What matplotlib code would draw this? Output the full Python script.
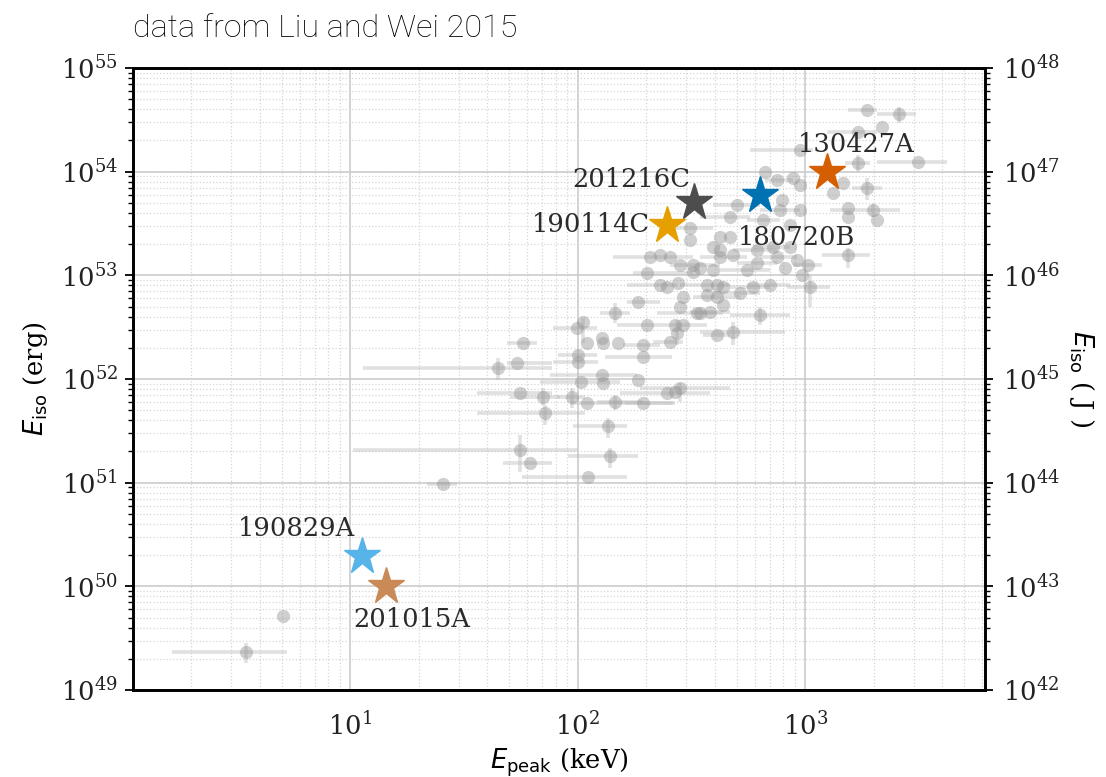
import numpy as np
import matplotlib
matplotlib.use("Agg")
import matplotlib.pyplot as plt
from matplotlib.ticker import LogLocator, NullFormatter, FixedLocator

# ---- GRB sample (Epeak in keV, Eiso in units of 1e52 erg) ----
epeak = [1873, 2588, 2179, 1710, 951, 1710, 3140, 1469, 1873, 1990,
         1545, 1545, 2073, 1545, 667, 753, 885, 951, 1327, 792,
         777, 951, 502, 468, 653, 859, 723, 859, 615, 483,
         753, 922, 1030, 817, 615, 423, 556, 970, 701, 1052,
         591, 518, 634, 394, 322, 345, 312, 423, 312, 208,
         230, 255, 202, 230, 247, 277, 291, 282, 185, 146,
         371, 410, 436, 371, 410, 335, 382, 436, 282, 468,
         394, 423, 322, 202, 255, 268, 291, 274, 345, 410,
         483, 99.5, 106, 100, 100, 110, 128, 129, 151, 194,
         194, 57.5, 54, 44.7, 128, 103, 129, 185, 55.9, 70.5,
         94.6, 110, 146, 194, 247, 268, 282, 72, 136, 55.9,
         61.8, 139, 111, 25.6, 5.08, 3.49]

eiso52 = [394, 360, 270, 241, 162, 121, 124, 77.8, 69.6, 42.7,
          44.7, 36.5, 34.2, 15.7, 99, 83.2, 86.9, 74.3, 62.3, 53.3,
          42.7, 42.7, 47.7, 36.5, 34.2, 30.6, 18.8, 18.8, 17.5, 15.7,
          15.0, 14.1, 12.6, 11.8, 13.2, 17.5, 11.3, 10.1, 8.07, 7.72,
          7.72, 6.76, 4.14, 11.3, 12.6, 11.8, 21.9, 23.4, 28.6, 15.0,
          15.7, 15.0, 10.5, 8.07, 7.72, 8.43, 6.18, 4.95, 5.53, 4.33,
          8.07, 8.07, 7.72, 6.46, 6.18, 4.33, 4.43, 5.17, 12.6, 23.4,
          18.8, 15.0, 10.8, 3.32, 2.27, 3.32, 3.32, 2.78, 4.33, 2.66,
          2.84, 3.10, 3.55, 1.71, 1.46, 2.22, 2.49, 2.22, 2.22, 2.13,
          1.63, 2.22, 1.43, 1.28, 1.09, 0.935, 0.915, 0.978, 0.733, 0.671,
          0.671, 0.587, 0.600, 0.587, 0.733, 0.750, 0.819, 0.470, 0.352, 0.207,
          0.155, 0.181, 0.1135, 0.0971, 0.00518, 0.00233]

# Epeak confidence ranges (lower, upper) for bursts that have them
epeak_bounds = {
    0: (1545, 2073), 1: (2073, 3076), 3: (1250, 2073), 4: (573, 1084),
    5: (1500, 1932), 6: (2073, 4207), 8: (1610, 2179), 9: (1288, 2616),
    13: (1188, 1932), 15: (667, 885), 20: (634, 951), 22: (394, 634),
    23: (345, 573), 24: (556, 777), 26: (591, 859), 28: (483, 753),
    30: (634, 922), 32: (885, 1188), 34: (502, 753), 36: (423, 701),
    38: (556, 859), 39: (834, 1288), 40: (468, 701), 41: (394, 634),
    42: (468, 859), 44: (255, 423), 48: (255, 394), 49: (143, 322),
    52: (175, 322), 53: (165, 274), 58: (165, 230), 59: (126, 170),
    60: (282, 468), 64: (322, 518), 66: (312, 468), 71: (345, 556),
    73: (149, 371), 74: (215, 291), 78: (224, 436), 79: (356, 468),
    80: (345, 817), 81: (78, 122), 83: (82, 122), 84: (78, 123),
    89: (158, 230), 90: (132, 260), 91: (49, 66), 92: (49, 77),
    93: (11.4, 77), 94: (75.7, 183), 95: (68.4, 154), 98: (36.2, 77),
    99: (50.5, 83.8), 100: (81.3, 108), 101: (92.7, 263), 102: (122, 194),
    103: (162, 268), 104: (154, 382), 106: (188, 468), 107: (36.2, 108),
    108: (95.5, 165), 109: (10.3, 100), 110: (47.1, 77), 111: (90.8, 185),
    112: (57, 165), 113: (21.8, 29.5), 115: (1.65, 5.29),
}

# Eiso confidence ranges (lower, upper), units of 1e52 erg
eiso_bounds = {
    1: (295, 421), 5: (99, 145), 8: (53.3, 86.9), 9: (36.5, 48.8),
    13: (11.8, 18.4), 39: (4.95, 10.1), 42: (3.32, 4.95), 59: (3.47, 5.41),
    77: (2.13, 3.71), 80: (2.13, 3.55), 82: (2.22, 3.88), 93: (0.978, 1.60),
    99: (0.561, 0.819), 100: (0.525, 0.819), 102: (0.502, 0.701),
    106: (0.600, 0.915), 107: (0.360, 0.561), 108: (0.270, 0.421),
    109: (0.127, 0.288), 111: (0.139, 0.216), 115: (0.00182, 0.00284),
}

# ---- highlighted bursts ----
grb_names = ["130427A", "180720B", "201216C", "190114C", "190829A", "201015A"]
grb_epeak = [1250, 634, 325, 247, 11.3, 14.4]
grb_eiso = [1.0e54, 6.0e53, 5.1e53, 3.06e53, 1.96e50, 1.0e50]
grb_colors = ["#D55E00", "#0072B2", "#4D4D4D", "#E69F00", "#56B4E9", "#C98A58"]
# label offsets (points) and horizontal alignment
grb_label_offset = [(21, 19.5), (26.5, -31), (-3, 16), (-12, 0.5), (-5, 20), (-24, -24)]
grb_label_ha = ["center", "center", "right", "right", "right", "left"]

x_ticks = [10, 100, 1000]
y_ticks_erg = [1e49, 1e50, 1e51, 1e52, 1e53, 1e54, 1e55]
ERG_TO_J = 1e-7

plt.rcParams.update({
    "font.family": "serif",
    "font.serif": ["DejaVu Serif"],
    "mathtext.fontset": "dejavusans",
})

fig = plt.figure(figsize=(11.06, 7.77), dpi=100)
ax = fig.add_axes([0.1203, 0.1120, 0.7703, 0.8005])

x = np.asarray(epeak, dtype=float)
y = np.asarray(eiso52, dtype=float) * 1e52
xlo, xhi = x.copy(), x.copy()
for i, (lo, hi) in epeak_bounds.items():
    xlo[i], xhi[i] = lo, hi
ylo, yhi = y.copy(), y.copy()
for i, (lo, hi) in eiso_bounds.items():
    ylo[i], yhi[i] = lo * 1e52, hi * 1e52

ax.errorbar(x, y, xerr=[x - xlo, xhi - x], yerr=[y - ylo, yhi - y],
            fmt="o", ms=9.5, color="#959595", alpha=0.45, ecolor="#bdbdbd",
            elinewidth=2.6, capsize=0, mew=0, zorder=2)

for name, ep, ei, c, off, ha in zip(grb_names, grb_epeak, grb_eiso, grb_colors,
                                    grb_label_offset, grb_label_ha):
    ax.plot([ep], [ei], marker="*", ms=28, color=c, mec=c, ls="none", zorder=4)
    ax.annotate(name, (ep, ei), xytext=off, textcoords="offset points",
                ha=ha, va="center", fontsize=18.5, color="#2b2b2b", zorder=5)

ax.set_xscale("log")
ax.set_yscale("log")
ax.set_xlim(1.11, 6180)
ax.set_ylim(y_ticks_erg[0], y_ticks_erg[-1])

ax.xaxis.set_major_locator(FixedLocator(x_ticks))
ax.yaxis.set_major_locator(FixedLocator(y_ticks_erg))
for axis in (ax.xaxis, ax.yaxis):
    axis.set_minor_locator(LogLocator(base=10, subs=np.arange(2, 10), numticks=100))
    axis.set_minor_formatter(NullFormatter())

ax.grid(which="major", color="#cccccc", lw=1.2)
ax.grid(which="minor", color="#d6d6d6", lw=0.9, ls=":")
ax.set_axisbelow(True)

ax.tick_params(axis="x", which="both", length=0, labelsize=18.5, pad=16,
               labelcolor="#222222")
ax.tick_params(axis="y", which="major", length=6, width=1.3, labelsize=18.5,
               pad=5, labelcolor="#222222")
ax.tick_params(axis="y", which="minor", length=3.5, width=1.0)

ax.set_xlabel(r"$E_\mathrm{peak}$ (keV)", fontsize=18.5, labelpad=4)
ax.set_ylabel(r"$E_\mathrm{iso}$ (erg)", fontsize=18.5, labelpad=8)
ax.set_title("data from Liu and Wei 2015", loc="left", pad=22, fontsize=23.2,
             fontfamily="Roboto", fontweight="light", color="black")

# energy in joules on the right-hand axis
ax2 = ax.twinx()
ax2.set_yscale("log")
lo, hi = ax.get_ylim()
ax2.set_ylim(lo * ERG_TO_J, hi * ERG_TO_J)
ax2.tick_params(axis="x", which="both", bottom=False, top=False,
                labelbottom=False, labeltop=False)
ax2.yaxis.set_major_locator(FixedLocator([v * ERG_TO_J for v in y_ticks_erg]))
ax2.yaxis.set_minor_locator(LogLocator(base=10, subs=np.arange(2, 10), numticks=100))
ax2.yaxis.set_minor_formatter(NullFormatter())
ax2.tick_params(axis="y", which="major", length=6, width=1.3, labelsize=18.5,
                pad=7, labelcolor="#222222")
ax2.tick_params(axis="y", which="minor", length=3.5, width=1.0)
ax2.set_ylabel(r"$E_\mathrm{iso}$ ( J )", fontsize=18.5, rotation=270,
               labelpad=26)

for a in (ax, ax2):
    for sp in a.spines.values():
        sp.set_linewidth(1.9)
        sp.set_color("black")

fig.savefig("out.png", dpi=100)
